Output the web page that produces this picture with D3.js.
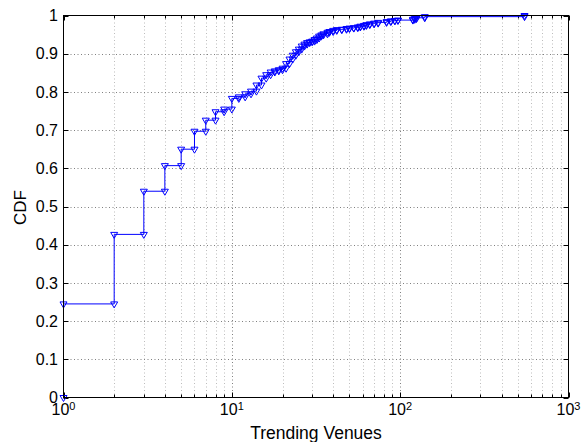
<!DOCTYPE html>
<html>
<head>
<meta charset="utf-8">
<script src="https://cdn.jsdelivr.net/npm/d3@7"></script>
<style>
    body { margin: 0; background: #fff; }
    text { font-family: "Liberation Sans", Arial, Helvetica, sans-serif; fill: #000; }
</style>
</head>
<body>
<div id="chart-container"></div>
<script>
// distinct values of trending venues and the empirical CDF at each one
var venues = [1, 2, 3, 4, 5, 6, 7, 8, 9, 10, 11, 12, 13, 14, 15, 16, 17, 18, 19, 20,
    21, 22, 23, 24, 25, 26, 27, 28, 29, 30, 31, 32, 33, 34, 35, 37, 38, 40, 42, 45,
    48, 50, 53, 56, 58, 61, 63, 66, 70, 74, 83, 88, 93, 97, 119, 122, 125, 140, 548];
var cdf = [0.245, 0.427, 0.540, 0.607, 0.650, 0.697, 0.726, 0.748, 0.755, 0.783,
    0.787, 0.795, 0.802, 0.818, 0.836, 0.845, 0.852, 0.855, 0.858, 0.862,
    0.874, 0.886, 0.896, 0.905, 0.912, 0.920, 0.925, 0.929, 0.931, 0.933,
    0.937, 0.941, 0.946, 0.949, 0.952, 0.956, 0.958, 0.961, 0.963, 0.964,
    0.966, 0.967, 0.968, 0.970, 0.972, 0.974, 0.976, 0.978, 0.980, 0.982,
    0.984, 0.986, 0.987, 0.988, 0.990, 0.992, 0.994, 0.997, 1.0];
var yTicks = [0, 0.1, 0.2, 0.3, 0.4, 0.5, 0.6, 0.7, 0.8, 0.9, 1];
var yTickLabels = ["0", "0.1", "0.2", "0.3", "0.4", "0.5", "0.6", "0.7", "0.8", "0.9", "1"];
var xDecades = [1, 10, 100, 1000];
var xTickExp = ["0", "1", "2", "3"];

var width = 581, height = 442;
// plot box edges
var pLeft = 63.5, pRight = 568.5, pTop = 15.5, pBottom = 397.5;

var svg = d3.select("#chart-container")
    .append("svg")
    .attr("width", width)
    .attr("height", height);

svg.append("rect").attr("width", width).attr("height", height).attr("fill", "#fff");

var x = d3.scaleLog().domain([1, 1000]).range([pLeft, pRight]);
var y = d3.scaleLinear().domain([0, 1]).range([pBottom, pTop]);

// minor ticks 2..9 of every decade
var minors = [];
xDecades.slice(0, 3).forEach(function (d) {
    for (var m = 2; m <= 9; m++) minors.push(d * m);
});

// grid
var grid = svg.append("g");
grid.selectAll(".xminor")
    .data(minors)
    .enter().append("line")
    .attr("x1", function (d) { return Math.round(x(d)) + 0.5; })
    .attr("x2", function (d) { return Math.round(x(d)) + 0.5; })
    .attr("y1", pTop).attr("y2", pBottom)
    .attr("stroke", "#bdbdbd")
    .attr("stroke-dasharray", "1,2.5");
grid.selectAll(".xmajor")
    .data(xDecades.slice(1, 3))
    .enter().append("line")
    .attr("x1", function (d) { return Math.round(x(d)) + 0.5; })
    .attr("x2", function (d) { return Math.round(x(d)) + 0.5; })
    .attr("y1", pTop).attr("y2", pBottom)
    .attr("stroke", "#808080")
    .attr("stroke-dasharray", "1,2.5");
grid.selectAll(".ymajor")
    .data(yTicks.slice(1, 10))
    .enter().append("line")
    .attr("x1", pLeft).attr("x2", pRight)
    .attr("y1", function (d) { return Math.round(y(d)) + 0.5; })
    .attr("y2", function (d) { return Math.round(y(d)) + 0.5; })
    .attr("stroke", "#808080")
    .attr("stroke-dasharray", "1,2.5");

// tick marks, pointing inwards on all four sides
var ticks = svg.append("g").attr("stroke", "#000").attr("stroke-width", 1);
minors.forEach(function (d) {
    var px = Math.round(x(d)) + 0.5;
    ticks.append("line").attr("x1", px).attr("x2", px).attr("y1", pBottom).attr("y2", pBottom - 3);
    ticks.append("line").attr("x1", px).attr("x2", px).attr("y1", pTop).attr("y2", pTop + 3);
});
xDecades.forEach(function (d) {
    var px = Math.round(x(d)) + 0.5;
    ticks.append("line").attr("x1", px).attr("x2", px).attr("y1", pBottom).attr("y2", pBottom - 5);
    ticks.append("line").attr("x1", px).attr("x2", px).attr("y1", pTop).attr("y2", pTop + 5);
});
yTicks.forEach(function (d) {
    var py = Math.round(y(d)) + 0.5;
    ticks.append("line").attr("x1", pLeft).attr("x2", pLeft + 5).attr("y1", py).attr("y2", py);
    ticks.append("line").attr("x1", pRight).attr("x2", pRight - 5).attr("y1", py).attr("y2", py);
});

// stair vertices of the CDF
var pts = [[venues[0], 0]];
for (var i = 0; i < venues.length; i++) {
    if (i > 0) pts.push([venues[i], cdf[i - 1]]);
    pts.push([venues[i], cdf[i]]);
}
var linePts = pts.concat([[1000, cdf[cdf.length - 1]]]);

var line = d3.line()
    .x(function (d) { return x(d[0]); })
    .y(function (d) { return y(d[1]); });

svg.append("path")
    .datum(linePts)
    .attr("d", line)
    .attr("fill", "none")
    .attr("stroke", "#0000ff")
    .attr("stroke-width", 1);

svg.selectAll(".marker")
    .data(pts)
    .enter().append("path")
    .attr("class", "marker")
    .attr("transform", function (d) { return "translate(" + x(d[0]) + "," + y(d[1]) + ")"; })
    .attr("d", "M-3.5,-2L3.5,-2L0,4Z")
    .attr("fill", "none")
    .attr("stroke", "#0000ff")
    .attr("stroke-width", 1);

// axes box
svg.append("rect")
    .attr("x", pLeft).attr("y", pTop)
    .attr("width", pRight - pLeft).attr("height", pBottom - pTop)
    .attr("fill", "none")
    .attr("stroke", "#000")
    .attr("stroke-width", 1);

// tick labels
svg.selectAll(".ylabel")
    .data(yTicks)
    .enter().append("text")
    .attr("x", 58)
    .attr("y", function (d) { return y(d); })
    .attr("dy", "0.36em")
    .attr("text-anchor", "end")
    .style("font-size", "16px")
    .text(function (d, i) { return yTickLabels[i]; });

var xl = svg.selectAll(".xlabel")
    .data(xDecades)
    .enter().append("text")
    .attr("x", function (d) { return x(d); })
    .attr("y", 414.5)
    .attr("text-anchor", "middle")
    .style("font-size", "16px");
xl.append("tspan").text("10");
xl.append("tspan")
    .attr("dy", -5)
    .style("font-size", "11px")
    .text(function (d, i) { return xTickExp[i]; });

// axis titles
svg.append("text")
    .attr("x", (pLeft + pRight) / 2)
    .attr("y", 439)
    .attr("text-anchor", "middle")
    .style("font-size", "17.5px")
    .text("Trending Venues");

svg.append("text")
    .attr("transform", "translate(26," + ((pTop + pBottom) / 2 + 1) + ") rotate(-90)")
    .attr("text-anchor", "middle")
    .style("font-size", "17px")
    .text("CDF");
</script>
</body>
</html>
